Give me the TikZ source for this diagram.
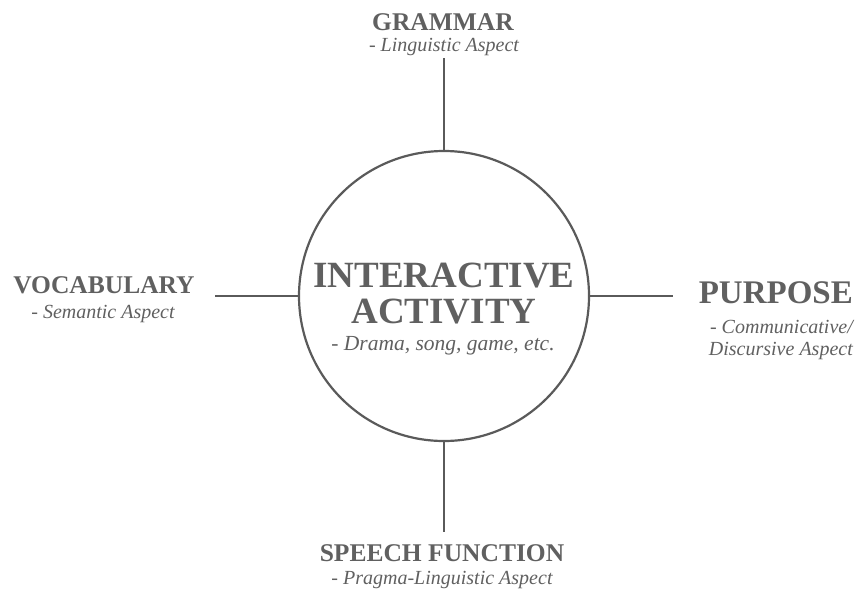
\documentclass[tikz,border=0pt]{standalone}
\usepackage{fontspec}
\setmainfont{Liberation Serif}
\definecolor{ink}{HTML}{606060}
\definecolor{rule}{HTML}{5A5A5A}
\tikzset{
  x=1pt, y=-1pt,
  spoke/.style={draw=rule, line width=2.2pt},
  hub/.style={circle, draw=rule, line width=2.2pt, minimum size=290pt, inner sep=0pt},
  lbl/.style={text=ink, inner sep=0pt, align=center},
  headA/.style={font=\fontsize{25.5}{28}\selectfont\bfseries},
  subA/.style={font=\fontsize{20}{22}\selectfont\itshape},
}
\begin{document}
\begin{tikzpicture}
\useasboundingbox (0,0) rectangle (858,589);
% central circle
\node[hub] (hub) at (444,296) {};
\node[lbl, anchor=base, font=\fontsize{37}{36}\selectfont\bfseries] (title) at (444,287) {INTERACTIVE};
\node[lbl, anchor=base, font=\fontsize{37}{36}\selectfont\bfseries] (title2) at (444,323) {ACTIVITY};
\node[lbl, anchor=base, font=\fontsize{21.5}{24}\selectfont\itshape] (titlesub) at (443,350) {- Drama, song, game, etc.};
% outer ends of the spokes
\coordinate (ntop) at (444,58);
\coordinate (nbot) at (444,532);
\coordinate (nleft) at (215,296);
\coordinate (nright) at (673,296);
\draw[spoke] (hub.north) -- (ntop);
\draw[spoke] (hub.south) -- (nbot);
\draw[spoke] (hub.west) -- (nleft);
\draw[spoke] (hub.east) -- (nright);
% labels
\node[lbl, anchor=base, headA] (gram) at (443,30) {GRAMMAR};
\node[lbl, anchor=base, subA] (gramsub) at (444,51) {- Linguistic Aspect};
\node[lbl, anchor=base, headA] (voc) at (104,293) {VOCABULARY};
\node[lbl, anchor=base, subA] (vocsub) at (103,318) {- Semantic Aspect};
\node[lbl, anchor=base east, font=\fontsize{33}{36}\selectfont\bfseries] (purp) at (853,303) {PURPOSE};
\node[lbl, anchor=base east, subA] (purpsub) at (853,333) {- Communicative/};
\node[lbl, anchor=base east, subA] (purpsub2) at (853,355) {Discursive Aspect};
\node[lbl, anchor=base, headA] (speech) at (442,561) {SPEECH FUNCTION};
\node[lbl, anchor=base, subA] (speechsub) at (442,584) {- Pragma-Linguistic Aspect};
\end{tikzpicture}
\end{document}
